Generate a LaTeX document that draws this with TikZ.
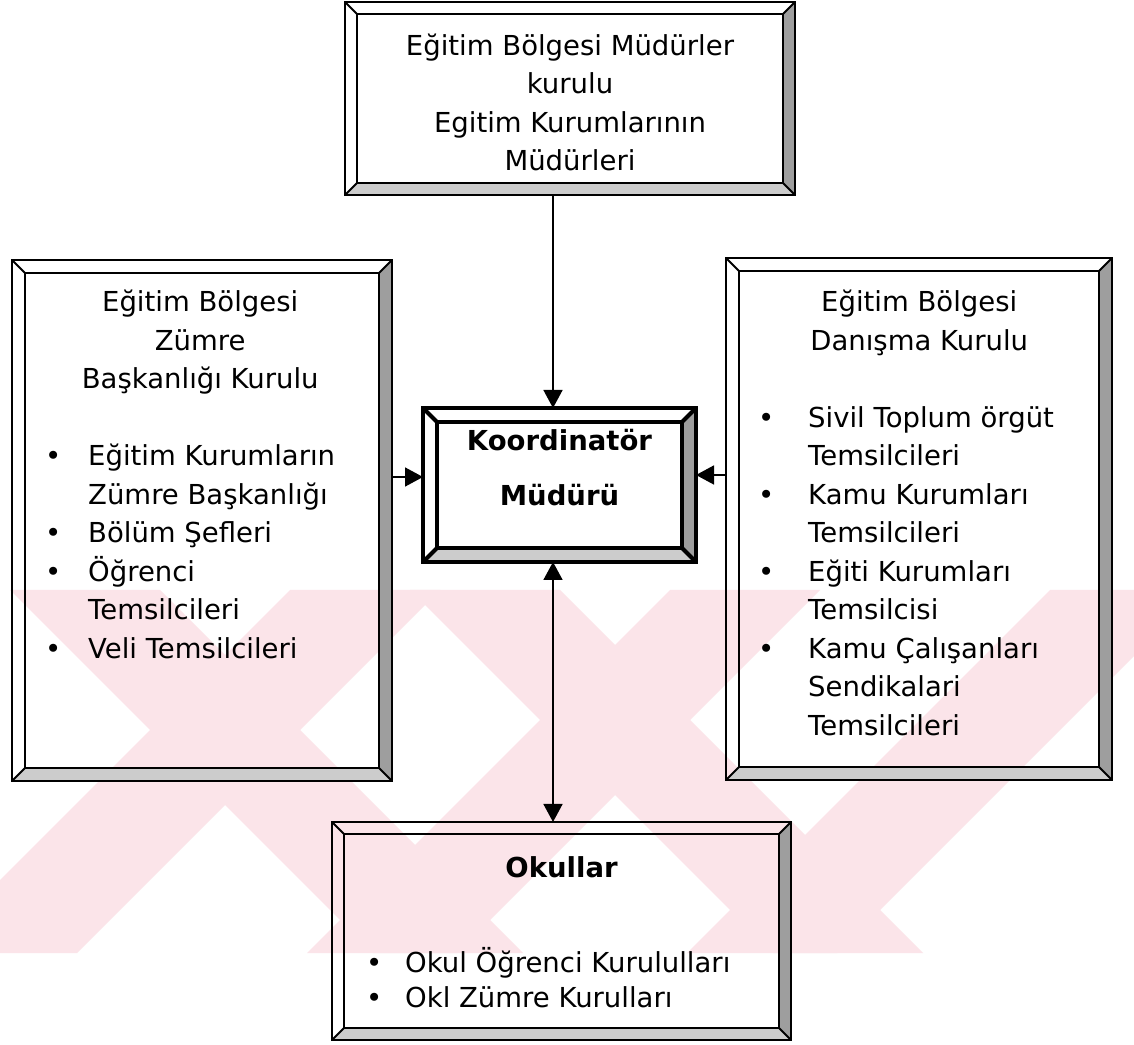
\documentclass[tikz,border=0pt]{standalone}
\usepackage{fontspec}
\setmainfont{DejaVu Sans}
\usetikzlibrary{arrows.meta,positioning,calc}

\definecolor{wmpink}{RGB}{251,228,233}
\colorlet{bevelside}{black!38}
\colorlet{bevelfoot}{black!20}

% framed box with bevelled border, drawn round a named node
\newcommand{\bevelframe}[3][]{%
  \path[fill=bevelside] (#2.north east) -- (#2.south east) -- ($(#2.south east)+(-#3,#3)$) -- ($(#2.north east)+(-#3,-#3)$) -- cycle;
  \path[fill=bevelfoot] (#2.south west) -- (#2.south east) -- ($(#2.south east)+(-#3,#3)$) -- ($(#2.south west)+(#3,#3)$) -- cycle;
  \draw[#1] (#2.north west) rectangle (#2.south east);
  \draw[#1] ($(#2.north west)+(#3,-#3)$) rectangle ($(#2.south east)+(-#3,#3)$);
  \draw[#1] (#2.north west) -- ++(#3,-#3);
  \draw[#1] (#2.north east) -- ++(-#3,-#3);
  \draw[#1] (#2.south east) -- ++(-#3,#3);
  \draw[#1] (#2.south west) -- ++(#3,#3);
}
\newcommand{\itembullet}[1][43pt]{\makebox[#1][l]{•}}
\newcommand{\itemgap}[1][43pt]{\hspace*{#1}}

\begin{document}
\begin{tikzpicture}[
    x=1pt, y=1pt,
    frame/.style={rectangle, inner sep=0pt, outer sep=0pt},
    txt/.style={inner sep=0pt, font=\fontsize{27.5}{38.5}\selectfont},
    boldtxt/.style={txt, font=\fontsize{27.5}{38.5}\selectfont\bfseries},
    arr/.style={line width=1.6pt, -{Triangle[length=18pt,width=19pt]}},
    arrboth/.style={line width=1.6pt, {Triangle[length=18pt,width=19pt]}-{Triangle[length=18pt,width=19pt]}}
]
\fill[white] (0,0) rectangle (1134,1044);
\useasboundingbox (0,0) rectangle (1134,1044);

% watermark
\begin{scope}[shift={(0,1044)}, yscale=-1]
  \clip (0,590) rectangle (1134,953);
  \foreach \a in {290,670,1050}
    \fill[wmpink] (\a,590) -- ++(150,0) -- ++(-363,363) -- ++(-150,0) -- cycle;
  \foreach \a in {10,410}
    \fill[wmpink] (\a,590) -- ++(150,0) -- ++(363,363) -- ++(-150,0) -- cycle;
\end{scope}

% boxes
\node[frame, minimum width=273pt, minimum height=154pt] (koord) at (559.5,559) {};
\node[frame, minimum width=450pt, minimum height=193pt] (mudurler) at (570,945.5) {};
\node[frame, minimum width=380pt, minimum height=521pt] (zumre) at (202,523.5) {};
\node[frame, minimum width=386pt, minimum height=522pt] (danisma) at (919,525) {};
\node[frame, minimum width=459pt, minimum height=218pt] (okul) at (561.5,113) {};

\bevelframe[line width=2pt]{mudurler}{12}
\bevelframe[line width=2pt]{zumre}{13}
\bevelframe[line width=2pt]{danisma}{13}
\bevelframe[line width=2pt]{okul}{12}
\bevelframe[line width=4pt]{koord}{14}

% texts
\node[txt, align=center] (mudurlertext) at ([yshift=-4pt]mudurler.center)
  {Eğitim Bölgesi Müdürler\\kurulu\\Egitim Kurumlarının\\Müdürleri};
\node[boldtxt, align=center] (koordtext) at ([yshift=17.5pt]koord.center)
  {Koordinatör\\[16.5pt]Müdürü};
\node[txt, align=left, below right=30pt and 33pt of zumre.north west] (zumretext)
  {\makebox[310pt]{Eğitim Bölgesi}\\\makebox[310pt]{Zümre}\\\makebox[310pt]{Başkanlığı Kurulu}\\[38.5pt]%
   \itembullet Eğitim Kurumların\\\itemgap Zümre Başkanlığı\\\itembullet Bölüm Şefleri\\%
   \itembullet Öğrenci\\\itemgap Temsilcileri\\\itembullet Veli Temsilcileri};
\node[txt, align=left, below right=32pt and 32pt of danisma.north west] (danismatext)
  {\makebox[322pt]{Eğitim Bölgesi}\\\makebox[322pt]{Danışma Kurulu}\\[38.5pt]%
   \itembullet[50pt]Sivil Toplum örgüt\\\itemgap[50pt]Temsilcileri\\%
   \itembullet[50pt]Kamu Kurumları\\\itemgap[50pt]Temsilcileri\\%
   \itembullet[50pt]Eğiti Kurumları\\\itemgap[50pt]Temsilcisi\\%
   \itembullet[50pt]Kamu Çalışanları\\\itemgap[50pt]Sendikalari\\\itemgap[50pt]Temsilcileri};
\node[boldtxt, below=34pt of okul.north] (okultitle) {Okullar};
\node[txt, align=left, font=\fontsize{27.5}{35}\selectfont, below right=125pt and 34pt of okul.north west] (okullist)
  {\itembullet[39pt]Okul Öğrenci Kurululları\\\itembullet[39pt]Okl Zümre Kurulları};

% connectors
\draw[arr] ([xshift=-6.5pt]koord.north |- mudurler.south) -- ([xshift=-6.5pt]koord.north);
\draw[arr] ([yshift=8pt]koord.west -| zumre.east) -- ([yshift=8pt]koord.west);
\draw[arr] ([yshift=10pt]koord.east -| danisma.west) -- ([yshift=10pt]koord.east);
\draw[arrboth] ([xshift=-6.5pt]koord.south) -- ([xshift=-6.5pt]koord.south |- okul.north);
\end{tikzpicture}
\end{document}
